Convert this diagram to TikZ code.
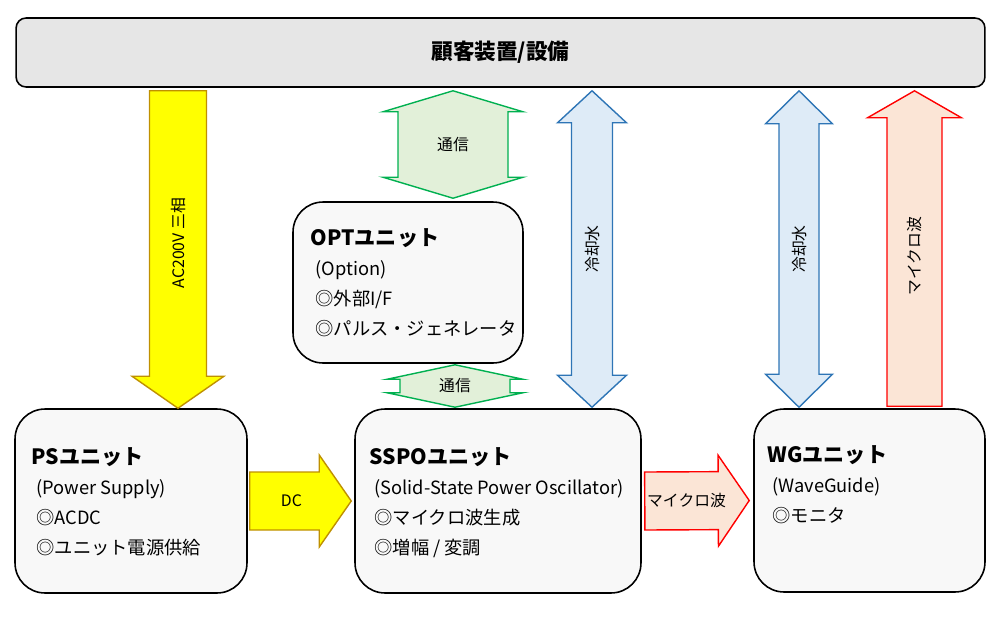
\documentclass[tikz,border=0pt]{standalone}
\usepackage{fontspec}
\setmainfont{Noto Sans CJK JP}
\usetikzlibrary{calc}

\definecolor{acyellow}{RGB}{255,255,0}
\definecolor{acedge}{RGB}{191,144,0}
\definecolor{comgreen}{RGB}{226,240,217}
\definecolor{comedge}{RGB}{0,176,80}
\definecolor{h2oblue}{RGB}{222,235,247}
\definecolor{h2oedge}{RGB}{46,117,182}
\definecolor{mwred}{RGB}{251,229,214}
\definecolor{mwedge}{RGB}{255,0,0}
\definecolor{custgray}{RGB}{230,230,230}
\definecolor{unitgray}{RGB}{248,248,248}

\newcommand{\unitname}[1]{{\fontsize{12pt}{17.5pt}\selectfont\bfseries #1}}
\newcommand{\subind}{\hspace*{2.8pt}}

% block arrow: style, base, tip, shaft half width, head half width, head length (px)
\newcommand{\blockarrow}[6]{%
  \path ($(#3)!#6*0.02cm!(#2)$) coordinate (bk-h);
  \draw[#1] ($(#2)!#4*0.02cm!90:(#3)$) -- ($(bk-h)!#4*0.02cm!90:(#3)$)
    -- ($(bk-h)!#5*0.02cm!90:(#3)$) -- (#3)
    -- ($(bk-h)!#5*0.02cm!-90:(#3)$) -- ($(bk-h)!#4*0.02cm!-90:(#3)$)
    -- ($(#2)!#4*0.02cm!-90:(#3)$) -- cycle;}
% double block arrow: style, end a, end b, shaft half width, head half width, head length (px)
\newcommand{\dblockarrow}[6]{%
  \path ($(#2)!#6*0.02cm!(#3)$) coordinate (bk-a) ($(#3)!#6*0.02cm!(#2)$) coordinate (bk-b);
  \draw[#1] (#2) -- ($(bk-a)!#5*0.02cm!90:(#3)$) -- ($(bk-a)!#4*0.02cm!90:(#3)$)
    -- ($(bk-b)!#4*0.02cm!-90:(#2)$) -- ($(bk-b)!#5*0.02cm!-90:(#2)$) -- (#3)
    -- ($(bk-b)!#5*0.02cm!90:(#2)$) -- ($(bk-b)!#4*0.02cm!90:(#2)$)
    -- ($(bk-a)!#4*0.02cm!-90:(#3)$) -- ($(bk-a)!#5*0.02cm!-90:(#3)$) -- cycle;}

\begin{document}
\begin{tikzpicture}[x=0.02cm,y=-0.02cm,
  unit/.style={draw,line width=0.9pt,fill=unitgray,rounded corners=0.6cm},
  utext/.style={anchor=north west,align=left,inner sep=0pt,font=\fontsize{10.4pt}{17pt}\selectfont},
  lbl/.style={inner sep=0pt,font=\fontsize{9pt}{11pt}\selectfont},
  acarrow/.style={fill=acyellow,draw=acedge,line width=0.8pt},
  comarrow/.style={fill=comgreen,draw=comedge,line width=0.8pt},
  h2oarrow/.style={fill=h2oblue,draw=h2oedge,line width=0.8pt},
  mwarrow/.style={fill=mwred,draw=mwedge,line width=0.8pt}]
\useasboundingbox (0,0) rectangle (1000,619);

% Customer side
\node[draw,line width=0.9pt,fill=custgray,rounded corners=0.2cm,minimum width=19.38cm,minimum height=1.38cm,
  font=\fontsize{12.3pt}{14pt}\selectfont\bfseries] (top) at (500.5,52.5) {顧客装置/設備};

% Units
\node[unit,minimum width=4.64cm,minimum height=3.68cm] (ps) at (131,501) {};
\node[unit,minimum width=5.72cm,minimum height=3.68cm] (sspo) at (498,501) {};
\node[unit,minimum width=4.62cm,minimum height=3.66cm] (wg) at (869.5,500.5) {};
\node[unit,minimum width=4.60cm,minimum height=3.22cm] (opt) at (408,282.5) {};

\node[utext] (pstx) at ($(ps.north west)+(17,39)$)
  {\unitname{PSユニット}\\\subind(Power Supply)\\\subind◎ACDC\\\subind◎ユニット電源供給};
\node[utext] (sspotx) at ($(sspo.north west)+(15,39)$)
  {\unitname{SSPOユニット}\\\subind(Solid-State Power Oscillator)\\\subind◎マイクロ波生成\\\subind◎増幅 / 変調};
\node[utext] (wgtx) at ($(wg.north west)+(14,37)$)
  {\unitname{WGユニット}\\\subind(WaveGuide)\\\subind◎モニタ};
\node[utext] (opttx) at ($(opt.north west)+(18,27)$)
  {\unitname{OPTユニット}\\\subind(Option)\\\subind◎外部I/F\\\subind◎パルス・ジェネレータ};

% Power
\coordinate (acT) at ($(178,0 |- top.south)+(0,3)$);
\coordinate (acB) at (178,0 |- ps.north);
\blockarrow{acarrow}{acT}{acB}{28.5}{46}{32}
\node[lbl,rotate=90] (acl) at ($(acT)!0.48!(acB)$) {AC200V 三相};
\coordinate (dcL) at ($(ps.east)+(2,0)$);
\coordinate (dcR) at ($(sspo.west)+(-3,0)$);
\blockarrow{acarrow}{dcL}{dcR}{29}{46}{32}
\node[lbl] (dcl) at ($(dcL)!0.41!(dcR)$) {DC};

% Communication
\coordinate (comA) at ($(453,0 |- top.south)+(0,3)$);
\coordinate (comB) at ($(453,0 |- opt.north)+(0,-3)$);
\dblockarrow{comarrow}{comA}{comB}{55}{70}{21}
\node[lbl] (coml1) at ($(comA)!0.5!(comB)$) {通信};
\coordinate (comC) at ($(455,0 |- opt.south)+(0,1)$);
\coordinate (comD) at ($(455,0 |- sspo.north)+(0,-1)$);
\dblockarrow{comarrow}{comC}{comD}{55}{68}{14.5}
\node[lbl] (coml2) at ($(comC)!0.5!(comD)$) {通信};

% Cooling water
\coordinate (h2oA) at ($(592,0 |- top.south)+(0,3)$);
\coordinate (h2oB) at ($(592,0 |- sspo.north)+(0,-1)$);
\dblockarrow{h2oarrow}{h2oA}{h2oB}{20.5}{34.5}{32}
\node[lbl,rotate=90] (h2ol1) at ($(h2oA)!0.5!(h2oB)$) {冷却水};
\coordinate (h2oC) at ($(799,0 |- top.south)+(0,3)$);
\coordinate (h2oD) at ($(799,0 |- wg.north)+(0,-1)$);
\dblockarrow{h2oarrow}{h2oC}{h2oD}{20}{33.5}{33}
\node[lbl,rotate=90] (h2ol2) at ($(h2oC)!0.5!(h2oD)$) {冷却水};

% Microwave
\coordinate (mwL) at ($(sspo.east)+(3,0)$);
\coordinate (mwR) at ($(wg.west)+(-4,0)$);
\blockarrow{mwarrow}{mwL}{mwR}{29}{45.5}{31}
\node[lbl] (mwl1) at ($(mwL)!0.4!(mwR)$) {マイクロ波};
\coordinate (mwB) at ($(914.5,0 |- wg.north)+(0,-2)$);
\coordinate (mwT) at ($(914.5,0 |- top.south)+(0,3)$);
\blockarrow{mwarrow}{mwB}{mwT}{27.5}{47}{27}
\node[lbl,rotate=90] (mwl2) at ($(mwB)!0.476!(mwT)$) {マイクロ波};
\end{tikzpicture}
\end{document}
